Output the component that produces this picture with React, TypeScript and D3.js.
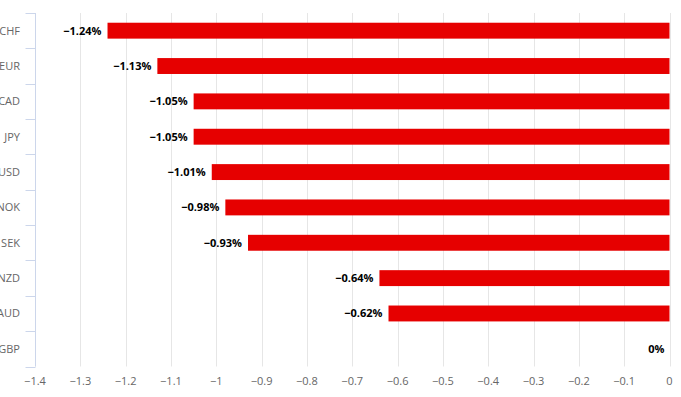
import React, { useEffect, useRef } from 'react';
import * as d3 from 'd3';

// currency changes in percent
const currencies: string[] = ['CHF', 'EUR', 'CAD', 'JPY', 'USD', 'NOK', 'SEK', 'NZD', 'AUD', 'GBP'];
const changes: number[] = [-1.24, -1.13, -1.05, -1.05, -1.01, -0.98, -0.93, -0.64, -0.62, 0];
const xTicks: number[] = [-1.4, -1.3, -1.2, -1.1, -1, -0.9, -0.8, -0.7, -0.6, -0.5, -0.4, -0.3, -0.2, -0.1, 0];

const width = 681;
const height = 397;
const FONT = '"Open Sans", "DejaVu Sans", sans-serif';

const minus = (s: string) => s.replace('-', '\u2212');

const App: React.FC = () => {
  const svgRef = useRef<SVGSVGElement>(null);

  useEffect(() => {
    if (!svgRef.current) return;
    const svg = d3.select(svgRef.current);
    svg.selectAll('*').remove();

    const margin = { top: 13, right: 11.5, bottom: 30.5, left: 35 };

    const x = d3.scaleLinear()
      .domain([-1.4, 0])
      .range([margin.left, width - margin.right]);

    const y = d3.scaleBand<string>()
      .domain(currencies)
      .range([margin.top, height - margin.bottom])
      .paddingInner(0.55)
      .paddingOuter(0.275);

    const band = d3.scaleBand<string>()
      .domain(currencies)
      .range([margin.top, height - margin.bottom]);

    // grid lines
    svg.append('g')
      .selectAll('line')
      .data(xTicks)
      .enter()
      .append('line')
      .attr('x1', d => Math.round(x(d)) + 0.5)
      .attr('x2', d => Math.round(x(d)) + 0.5)
      .attr('y1', margin.top)
      .attr('y2', height - margin.bottom)
      .attr('stroke', '#e6e6e6')
      .attr('stroke-width', 1);

    // y axis line + ticks
    const axisX = Math.round(margin.left) + 0.5;
    svg.append('line')
      .attr('x1', axisX)
      .attr('x2', axisX)
      .attr('y1', margin.top)
      .attr('y2', height - margin.bottom)
      .attr('stroke', '#ccd6eb');

    const boundaries = currencies.map(c => band(c) as number).concat([height - margin.bottom]);
    svg.append('g')
      .selectAll('line')
      .data(boundaries)
      .enter()
      .append('line')
      .attr('x1', axisX - 10)
      .attr('x2', axisX)
      .attr('y1', d => Math.round(d) + 0.5)
      .attr('y2', d => Math.round(d) + 0.5)
      .attr('stroke', '#ccd6eb');

    // category labels
    svg.append('g')
      .selectAll('text')
      .data(currencies)
      .enter()
      .append('text')
      .attr('x', 20)
      .attr('y', d => (band(d) as number) + band.bandwidth() / 2)
      .attr('dy', '0.35em')
      .attr('text-anchor', 'end')
      .attr('font-family', FONT)
      .attr('font-size', '11px')
      .attr('fill', '#666666')
      .text(d => d);

    // x tick labels
    svg.append('g')
      .selectAll('text')
      .data(xTicks)
      .enter()
      .append('text')
      .attr('x', d => x(d))
      .attr('y', 385)
      .attr('text-anchor', 'middle')
      .attr('font-family', FONT)
      .attr('font-size', '11px')
      .attr('fill', '#666666')
      .text(d => minus(d3.format('')(d)));

    // bars
    svg.append('g')
      .selectAll('rect')
      .data(currencies)
      .enter()
      .append('rect')
      .attr('x', (d, i) => x(changes[i]))
      .attr('y', d => y(d) as number)
      .attr('width', (d, i) => x(0) - x(changes[i]))
      .attr('height', y.bandwidth())
      .attr('fill', '#e60000');

    // value labels
    svg.append('g')
      .selectAll('text')
      .data(currencies)
      .enter()
      .append('text')
      .attr('x', (d, i) => changes[i] === 0 ? x(0) - 5 : x(changes[i]) - 6)
      .attr('y', d => (band(d) as number) + band.bandwidth() / 2)
      .attr('dy', '0.35em')
      .attr('text-anchor', 'end')
      .attr('font-family', FONT)
      .attr('font-size', '11px')
      .attr('font-weight', 'bold')
      .attr('fill', '#000000')
      .text((d, i) => changes[i] === 0 ? '0%' : minus(changes[i].toFixed(2)) + '%');
  }, []);

  return (
    <svg
      ref={svgRef}
      width={width}
      height={height}
      style={{ position: 'absolute', left: 0, top: 0, background: '#ffffff' }}
    />
  );
};

export default App;
